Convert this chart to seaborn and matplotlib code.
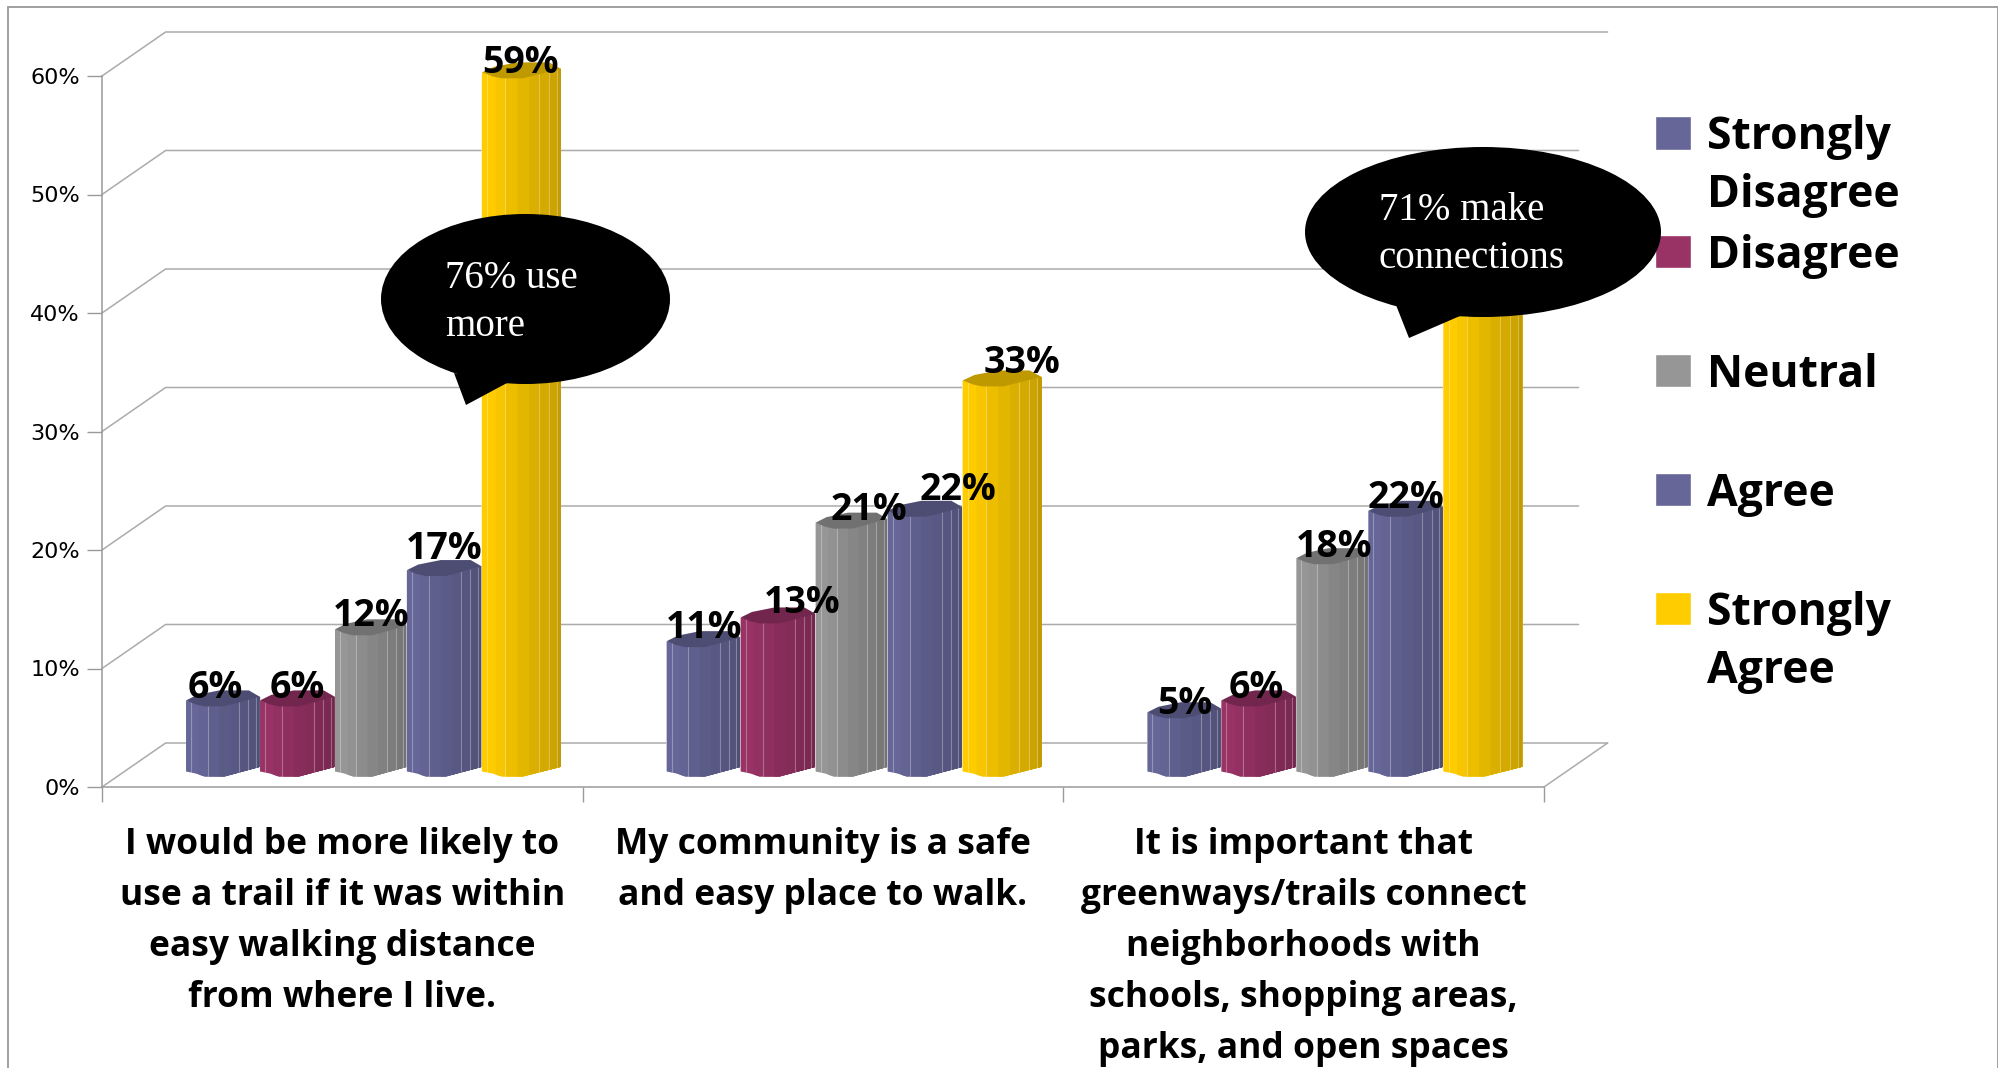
import numpy as np
import pandas as pd
import matplotlib
matplotlib.use('Agg')
import matplotlib.pyplot as plt
import seaborn as sns
from matplotlib.lines import Line2D
from matplotlib.patches import Ellipse, Polygon
from matplotlib.transforms import Affine2D

# Data
categorias = ['I would be more likely to\nuse a trail if it was within\neasy walking distance\nfrom where I live.',
              'My community is a safe\nand easy place to walk.',
              'It is important that\ngreenways/trails connect\nneighborhoods with\nschools, shopping areas,\nparks, and open spaces']
respuestas = ['Strongly Disagree', 'Disagree', 'Neutral', 'Agree', 'Strongly Agree']
leyenda = ['Strongly\nDisagree', 'Disagree\n ', 'Neutral\n ', 'Agree\n ', 'Strongly\nAgree']
strongly_disagree = [6, 11, 5]
disagree = [6, 13, 6]
neutral = [12, 21, 18]
agree = [17, 22, 22]
strongly_agree = [59, 33, 49]
valores = [strongly_disagree, disagree, neutral, agree, strongly_agree]
y_ticks = [0, 10, 20, 30, 40, 50, 60]

# Colours
colores = ['#666699', '#993366', '#969696', '#666699', '#FFCC00']
color_eje = '#9A9A9A'
color_rejilla = '#ABABAB'

# Label nudges in pixels, one row per response
label_dx = [[-7, 1, 1], [0, 24, -2], [1, 18, 2], [0, 33, 1], [-1, 20, 0]]
label_dy = [[12, 13, 8], [12, 14, 12], [13, 12, 11], [21, 20, 12], [9, 17, 12]]
# The callout covers the label of this bar in the picture (response, question)
etiqueta_oculta = (4, 2)
# Bars are not quite even in the picture: left edge shift in pixels per response
ajuste_x = [0, -1, -1, -4, -4, 0]

# Pixel layout of the front plane of the 3D box
W, H = 1999, 1068
X0, X1, Y0, Y1 = 102, 1544, 787, 76
PPX = (X1 - X0) / 3
PPY = (Y0 - Y1) / 60
DX, DY = 63.6 / PPX, 44 / PPY
BASE = 16 / PPY
XMIN = -(373 - X0) / PPX

df = pd.DataFrame({
    'pregunta': np.tile(np.arange(3), len(respuestas)),
    'respuesta': np.repeat(respuestas, 3),
    'valor': np.concatenate(valores),
})

sns.set_style('white')
plt.rcParams['font.family'] = ['Open Sans', 'DejaVu Sans']
plt.rcParams['text.color'] = 'black'
plt.rcParams['xtick.labelcolor'] = 'black'
plt.rcParams['ytick.labelcolor'] = 'black'

fig = plt.figure(figsize=(W / 100, H / 100), dpi=100)
ax = fig.add_axes([X0 / W, 1 - Y0 / H, (X1 - X0) / W, (Y0 - Y1) / H])
pix = Affine2D().scale(1, -1).translate(0, H)

sns.barplot(data=df, x='pregunta', y='valor', hue='respuesta', hue_order=respuestas,
            palette=colores, saturation=1, width=0.78, gap=0, bottom=BASE,
            native_scale=True, errorbar=None, legend=False, ax=ax)
ax.set_xlim(XMIN, XMIN + 3)
ax.set_ylim(0, 60)
ax.set_xlabel('')
ax.set_ylabel('')
sns.despine(ax=ax)

# Ejes y rejilla
for lado in ['left', 'bottom']:
    ax.spines[lado].set_color(color_eje)
    ax.spines[lado].set_linewidth(1.1)

x_atras = XMIN + DX
x_fin = XMIN + 3 + DX
for v in y_ticks:
    fin = x_fin if v in (0, 60) else x_fin - 29 / PPX
    ax.plot([XMIN, x_atras, fin], [v, v + DY, v + DY], color=color_rejilla, lw=1.1,
            zorder=0.5, clip_on=False)
ax.plot([XMIN + 3, x_fin], [0, DY], color=color_rejilla, lw=1.1, zorder=0.5, clip_on=False)

ax.set_yticks(y_ticks)
ax.set_yticklabels([f'{v}%' for v in y_ticks], family='DejaVu Sans', fontsize=16, va='center_baseline')
ax.tick_params(axis='y', length=10.8, width=1, color=color_eje, pad=5, left=True)
ax.set_xticks(XMIN + 0.5 + np.arange(3))
ax.set_xticklabels(categorias, fontweight='bold', fontsize=25.5)
ax.set_xticks(XMIN + np.arange(4), minor=True)
ax.tick_params(axis='x', which='major', length=0, pad=28.5, bottom=False)
ax.tick_params(axis='x', which='minor', length=10.8, width=1, color=color_eje, bottom=True)
for t in ax.get_xticklabels():
    t.set_linespacing(1.56)

# Leyenda (antes de recortar las barras)
ley = ax.legend(ax.containers, leyenda, loc='upper left', bbox_to_anchor=(1655 / W, 1 - 115 / H),
                bbox_transform=fig.transFigure, frameon=False, borderpad=0, borderaxespad=0,
                labelspacing=0.36, handlelength=0.82, handleheight=0.77, handletextpad=0.36,
                prop={'family': 'Open Sans', 'weight': 'bold', 'size': 32})
for t in ley.get_texts():
    t.set_linespacing(1.38)
for p in ley.get_patches():
    p.set_y(p.get_y() + 35 * 0.72)

# Perfil de cilindro, en pixeles respecto a la esquina de la barra
f_perfil = [0, 0.13, 0.25, 0.52, 1]
abajo = [0, -2, -5, -5, 4.7]
frente = [0, -4, -6, -6, 3.5]
f_tapa = [0, 0.15, 0.45, 0.85, 1]
atras = [0, 5.5, 10, 10, 3.5]
f_tiras = [0, 0.16, 0.3, 0.45, 0.6, 0.72, 0.84, 0.93]
sombra = [1.0, 0.97, 0.93, 0.89, 0.86, 0.83, 0.8, 0.76]
f_brillo = [0.07, 0.3, 0.72, 0.84, 0.93]
f_malla = np.linspace(0, 1, 41)


def oscurecer(color, k):
    return tuple(np.array(matplotlib.colors.to_rgb(color)) * k)


for i, (contenedor, color) in enumerate(zip(ax.containers, colores)):
    z = 3 + i * 0.1
    for j, barra in enumerate(contenedor.patches):
        w0 = barra.get_width()
        barra.set_x(barra.get_x() + ajuste_x[i] / PPX)
        barra.set_width(w0 + (ajuste_x[i + 1] - ajuste_x[i]) / PPX)
        x, w = barra.get_x(), barra.get_width()
        y0, y1 = barra.get_y(), barra.get_y() + barra.get_height()
        xs = x + f_malla * w
        low = y0 + np.interp(f_malla, f_perfil, abajo) / PPY
        high = y1 + np.interp(f_malla, f_perfil, frente) / PPY
        back = y1 + np.interp(f_malla, f_tapa, atras) / PPY
        barra.set_zorder(z)
        contorno = Polygon(np.r_[np.c_[xs, low], np.c_[xs[::-1], back[::-1]]], transform=ax.transData)
        barra.set_clip_path(contorno)
        for f, k in zip(f_tiras, sombra):
            m = f_malla >= f
            ax.fill_between(xs[m], low[m], high[m], color=oscurecer(color, k), lw=0, zorder=z, clip_on=False)
        for f in f_brillo:
            k = np.searchsorted(f_malla, f)
            ax.plot([xs[k], xs[k]], [low[k], high[k]], color='white', alpha=0.3, lw=0.8, zorder=z, clip_on=False)
        ax.fill_between(xs, high, back, color=oscurecer(color, 0.75), lw=0, zorder=z, clip_on=False)
        if (i, j) == etiqueta_oculta:
            continue
        ax.annotate(f'{int(barra.get_height())}%', (x + w / 2, y1),
                    xytext=(label_dx[i][j] * 0.72, label_dy[i][j] * 0.72), textcoords='offset points',
                    ha='center', va='center', fontsize=27, fontweight='bold', color='black',
                    zorder=6, annotation_clip=False)

# Globos
for (cx, cy, ew, eh), cola, lineas, xt in [
    ((525.5, 299, 289, 170), [(454, 373), (466, 405), (507, 383)], [('76% use', 279), ('more', 327)], 445),
    ((1483, 232, 356, 170), [(1396, 305), (1409, 338), (1460, 316)], [('71% make', 211), ('connections', 258)], 1379),
]:
    fig.add_artist(Ellipse((cx, cy), ew, eh, color='black', lw=0, transform=pix, zorder=10))
    fig.add_artist(Polygon(cola, closed=True, color='black', lw=0, transform=pix, zorder=10))
    for texto, yt in lineas:
        fig.text(xt, yt, texto, transform=pix, color='white', family='Liberation Serif',
                 fontsize=28, ha='left', va='center', zorder=11)

# Marco exterior
for xs, ys in [((7.5, 1998), (7, 7)), ((7.5, 7.5), (7, H)), ((1998, 1998), (7, H))]:
    fig.add_artist(Line2D(xs, ys, color='#A0A0A0', lw=1.4, transform=pix))

plt.savefig('out.png', dpi=100)
